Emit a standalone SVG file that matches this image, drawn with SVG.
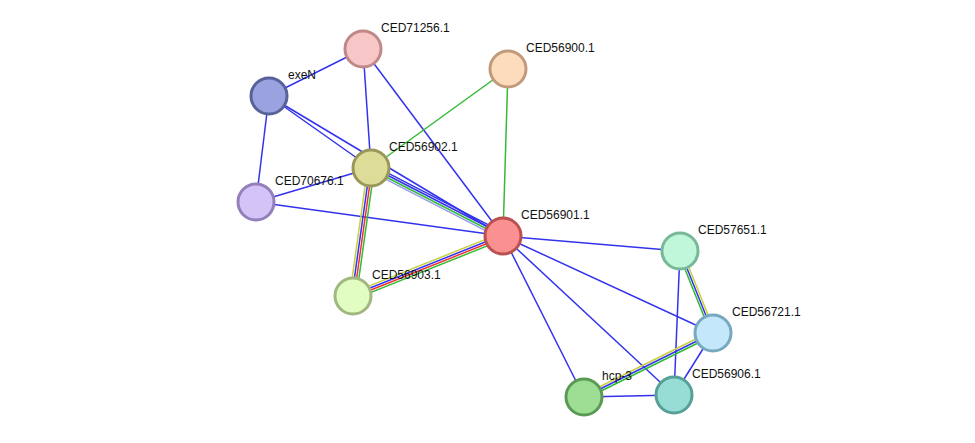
<svg xmlns="http://www.w3.org/2000/svg" width="975" height="443" viewBox="0 0 975 443">
<style>
.e line{stroke-width:1.5;fill:none}
.b{stroke:#3333ee}.g{stroke:#33bb33}.y{stroke:#c8d040}.r{stroke:#ee3333}.lb{stroke:#9999ee}
circle{stroke-width:3}
text{font-family:"Liberation Sans",Arial,sans-serif;font-size:12px;fill:#111}
</style>
<rect width="975" height="443" fill="#fff"/>
<g class="e" id="edges">
<line class="b" x1="269" y1="96" x2="363" y2="49"/>
<line class="b" x1="269" y1="96" x2="371" y2="168"/>
<line class="b" x1="269" y1="96" x2="503" y2="236"/>
<line class="b" x1="269" y1="96" x2="256" y2="202"/>
<line class="b" x1="363" y1="49" x2="371" y2="168"/>
<line class="b" x1="363" y1="49" x2="503" y2="236"/>
<line class="b" x1="256" y1="202" x2="371" y2="168"/>
<line class="b" x1="256" y1="202" x2="503" y2="236"/>
<line class="g" x1="508" y1="69" x2="371" y2="168"/>
<line class="g" x1="508" y1="69" x2="503" y2="236"/>
<line class="b" x1="503" y1="236" x2="680" y2="251"/>
<line class="b" x1="503" y1="236" x2="713" y2="333"/>
<line class="b" x1="503" y1="236" x2="584" y2="397"/>
<line class="b" x1="503" y1="236" x2="674" y2="395"/>
<line class="b" x1="680" y1="251" x2="674" y2="395"/>
<line class="b" x1="713" y1="333" x2="674" y2="395"/>
<line class="b" x1="584" y1="397" x2="674" y2="395"/>
<line class="b" x1="372.5" y1="165.1" x2="504.5" y2="233.1"/>
<line class="b" x1="371.5" y1="167" x2="503.5" y2="235"/>
<line class="g" x1="370.5" y1="169" x2="502.5" y2="237"/>
<line class="lb" x1="369.5" y1="170.9" x2="501.5" y2="238.9"/>
<line class="y" x1="367.7" y1="167.5" x2="349.7" y2="295.5"/>
<line class="b" x1="369.9" y1="167.8" x2="351.9" y2="295.8"/>
<line class="r" x1="372.1" y1="168.2" x2="354.1" y2="296.2"/>
<line class="g" x1="374.3" y1="168.5" x2="356.3" y2="296.5"/>
<line class="y" x1="351.8" y1="292.9" x2="501.8" y2="232.9"/>
<line class="b" x1="352.6" y1="295" x2="502.6" y2="235"/>
<line class="r" x1="353.4" y1="297" x2="503.4" y2="237"/>
<line class="g" x1="354.2" y1="299.1" x2="504.2" y2="239.1"/>
<line class="g" x1="678" y1="251.8" x2="711" y2="333.8"/>
<line class="b" x1="680" y1="251" x2="713" y2="333"/>
<line class="y" x1="682" y1="250.2" x2="715" y2="332.2"/>
<line class="y" x1="583" y1="395" x2="712" y2="331"/>
<line class="b" x1="584" y1="397" x2="713" y2="333"/>
<line class="g" x1="585" y1="399" x2="714" y2="335"/>
</g>
<g id="CED71256.1"><circle cx="363" cy="49" r="18" fill="#f7c6c6" stroke="#c08888"/><text x="381" y="32">CED71256.1</text></g>
<g id="CED56900.1"><circle cx="508" cy="69" r="18" fill="#fddcbd" stroke="#c09a7a"/><text x="526" y="52">CED56900.1</text></g>
<g id="exeN"><circle cx="269" cy="96" r="18" fill="#9aa3e0" stroke="#58629a"/><text x="288" y="79">exeN</text></g>
<g id="CED56902.1"><circle cx="371" cy="168" r="18" fill="#dddc98" stroke="#999858"/><text x="389" y="151">CED56902.1</text></g>
<g id="CED70676.1"><circle cx="256" cy="202" r="18" fill="#d4c3f7" stroke="#9380bb"/><text x="275" y="185">CED70676.1</text></g>
<g id="CED56901.1"><circle cx="503" cy="236" r="18" fill="#fb9090" stroke="#bb5050"/><text x="521" y="219">CED56901.1</text></g>
<g id="CED57651.1"><circle cx="680" cy="251" r="18" fill="#c0f7da" stroke="#78b898"/><text x="698" y="234">CED57651.1</text></g>
<g id="CED56903.1"><circle cx="353" cy="296" r="18" fill="#e2fdc2" stroke="#a0b880"/><text x="372" y="279">CED56903.1</text></g>
<g id="CED56721.1"><circle cx="713" cy="333" r="18" fill="#c4e7fc" stroke="#78a8c0"/><text x="732" y="316">CED56721.1</text></g>
<g id="hcp-3"><circle cx="584" cy="397" r="18" fill="#9ddd94" stroke="#5a9a54"/><text x="602" y="380">hcp-3</text></g>
<g id="CED56906.1"><circle cx="674" cy="395" r="18" fill="#97ddd6" stroke="#56a098"/><text x="692" y="378">CED56906.1</text></g>
</svg>
